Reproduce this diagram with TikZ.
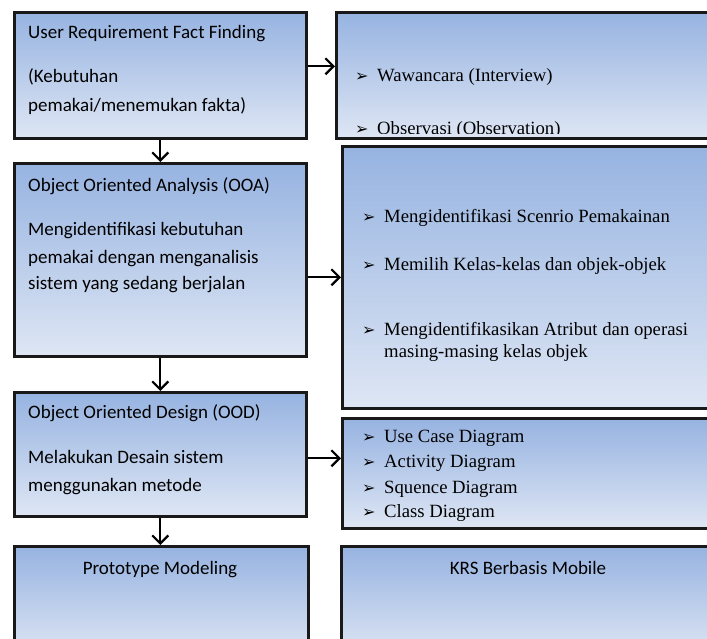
\documentclass[tikz,border=0pt]{standalone}
\usepackage{fontspec}
\setmainfont{Liberation Serif}
\newfontfamily\calib{Carlito}
\newfontfamily\dejavu{DejaVu Sans}
\usetikzlibrary{arrows.meta}
\definecolor{boxtop}{RGB}{150,179,225}
\definecolor{boxbot}{RGB}{222,230,244}
\newcommand{\tanda}{\makebox[22pt][l]{\dejavu\fontsize{16}{16}\selectfont ➢}}
\tikzset{
  blok/.style={draw=black!90, line width=2.6pt, top color=boxtop,
    bottom color=boxbot, anchor=north west, inner sep=0pt},
  kiri/.style={font=\calib\fontsize{19}{22}\selectfont, anchor=base west, inner sep=0pt},
  kanan/.style={font=\fontsize{18.7}{22}\selectfont, anchor=base west, inner sep=0pt},
  panah/.style={line width=2.2pt, -{Straight Barb[length=8pt,width=16pt]}}
}
\begin{document}
\begin{tikzpicture}[x=1pt,y=-1pt]
\useasboundingbox (0,0) rectangle (707,639);
\clip (0,0) rectangle (707,639);
% left column
\node[blok, minimum width=292pt, minimum height=126pt] (ufr) at (13,11) {};
\node[blok, minimum width=292pt, minimum height=193pt] (ooa) at (13,162) {};
\node[blok, minimum width=292pt, minimum height=124pt] (ood) at (13,391) {};
\node[blok, minimum width=294pt, minimum height=110pt] (proto) at (13,545) {};
% right column
\node[blok, minimum width=385pt, minimum height=126pt] (fakta1) at (335,11) {};
\node[blok, minimum width=379pt, minimum height=262pt] (fakta2) at (341,145) {};
\node[blok, minimum width=379pt, minimum height=110pt] (fakta3) at (341,417) {};
\node[blok, minimum width=380pt, minimum height=110pt] (krs) at (340,545) {};
% texts left
\node[kiri] (ufr1) at (28,39) {User Requirement Fact Finding};
\node[kiri] (ufr2) at (28,83) {(Kebutuhan};
\node[kiri] (ufr3) at (28,112) {pemakai/menemukan fakta)};
\node[kiri] (ooa1) at (28,192) {Object Oriented Analysis (OOA)};
\node[kiri] (ooa2) at (28,236) {Mengidentifikasi kebutuhan};
\node[kiri] (ooa3) at (28,263) {pemakai dengan menganalisis};
\node[kiri] (ooa4) at (28,290) {sistem yang sedang berjalan};
\node[kiri] (ood1) at (28,418) {Object Oriented Design (OOD)};
\node[kiri] (ood2) at (28,463) {Melakukan Desain sistem};
\node[kiri] (ood3) at (28,491) {menggunakan metode};
\node[kiri, anchor=base] (proto1) at (160,574) {Prototype Modeling};
\node[kiri, anchor=base] (krs1) at (528,574) {KRS Berbasis Mobile};
% texts right
\begin{scope}
  \clip (336,12) rectangle (720,134);
  \node[kanan] (f1a) at (355,82) {\tanda Wawancara (Interview)};
  \node[kanan] (f1b) at (355,135) {\tanda Observasi (Observation)};
\end{scope}
\node[kanan] (f2a) at (362,223) {\tanda Mengidentifikasi Scenrio Pemakainan};
\node[kanan] (f2b) at (362,270) {\tanda Memilih Kelas-kelas dan objek-objek};
\node[kanan] (f2c) at (362,335) {\tanda Mengidentifikasikan Atribut dan operasi};
\node[kanan] (f2d) at (384,357) {masing-masing kelas objek};
\begin{scope}
  \clip (342,418) rectangle (720,520);
  \node[kanan] (f3a) at (362,442) {\tanda Use Case Diagram};
  \node[kanan] (f3b) at (362,467) {\tanda Activity Diagram};
  \node[kanan] (f3c) at (362,493) {\tanda Squence Diagram};
  \node[kanan] (f3d) at (362,517) {\tanda Class Diagram};
\end{scope}
% arrows
\coordinate (a1) at ([yshift=9pt]ufr.east);
\draw[panah] (a1) -- (a1 -| fakta1.west);
\draw[panah] (ooa.east |- fakta2.west) -- (fakta2.west);
\coordinate (a3) at ([yshift=-4pt]ood.east);
\draw[panah] (a3) -- (a3 -| fakta3.west);
\draw[panah] (ufr.south) -- (ooa.north);
\draw[panah] (ooa.south) -- (ood.north);
\draw[panah] (ood.south) -- (proto.north -| ood.south);
\end{tikzpicture}
\end{document}
